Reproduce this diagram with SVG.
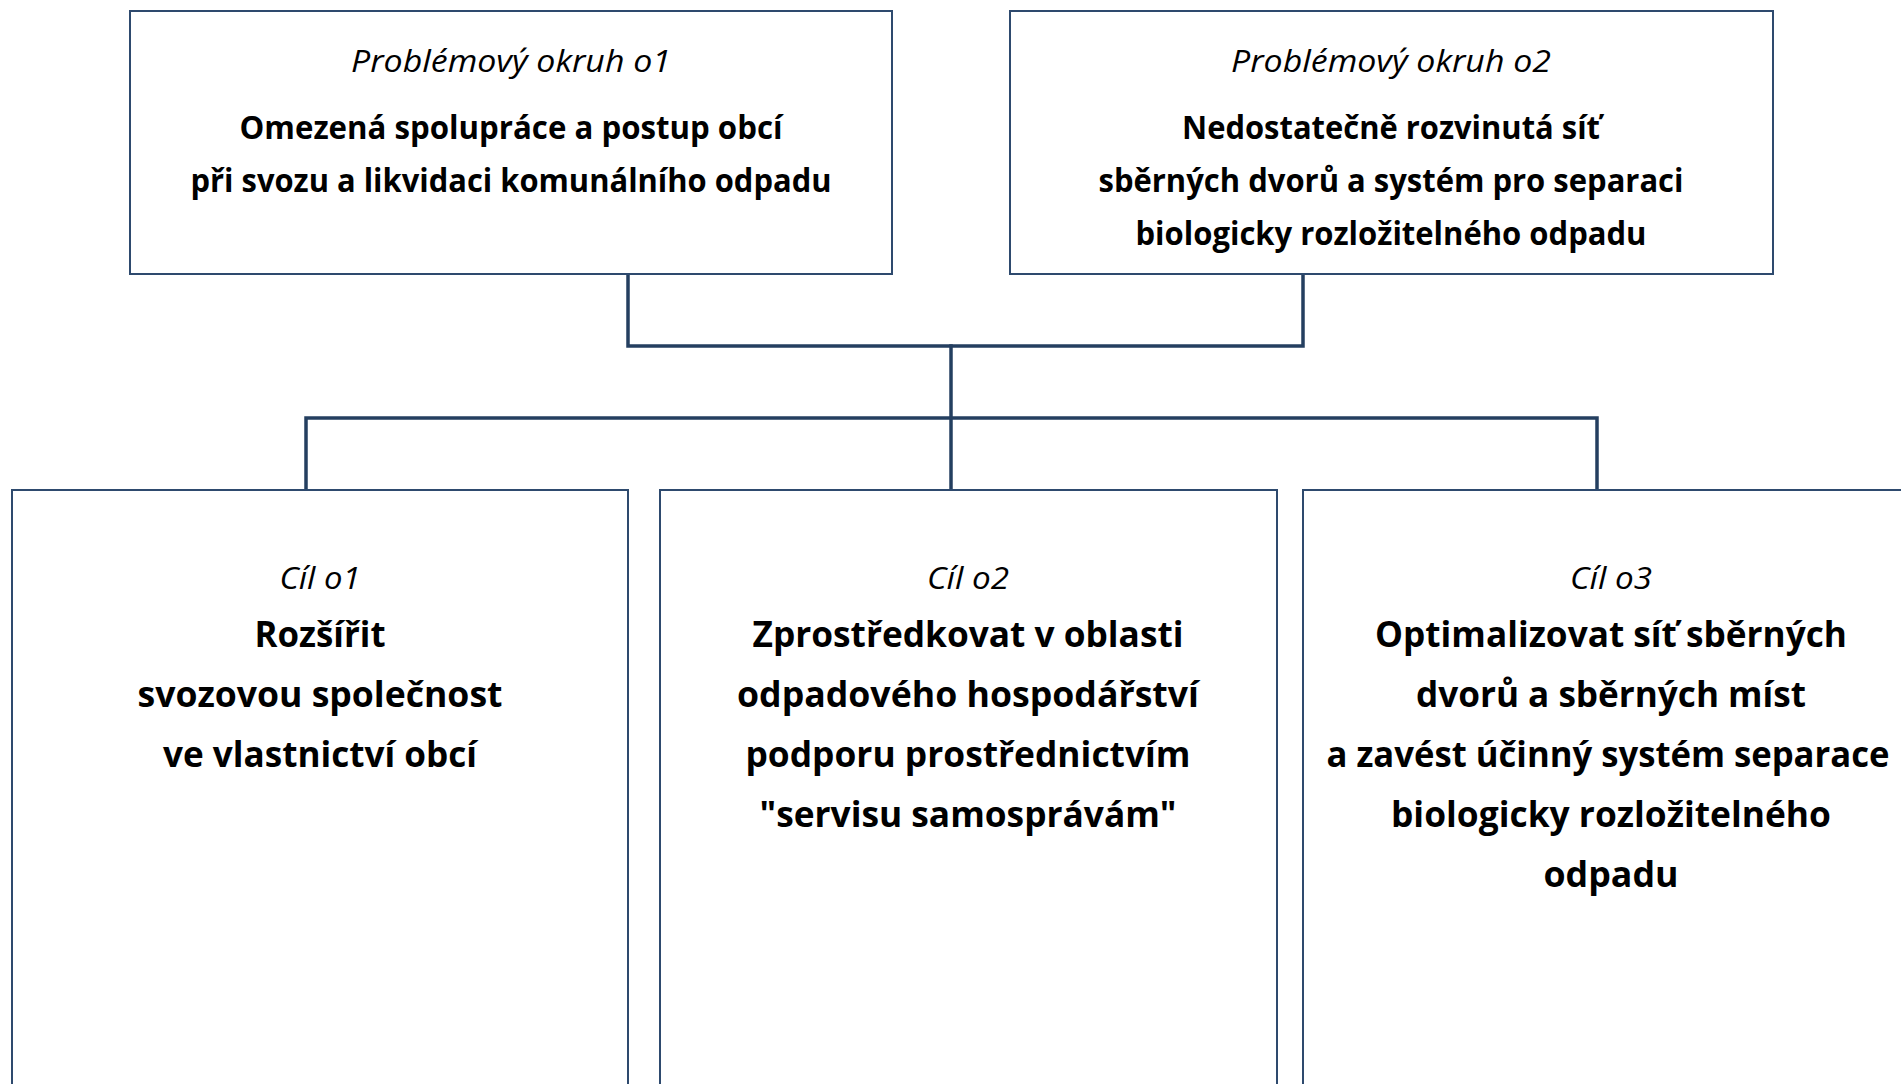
<svg xmlns="http://www.w3.org/2000/svg" width="1901" height="1084" viewBox="0 0 1901 1084">
<style>
.box{fill:#ffffff;stroke:#2E4A6E;stroke-width:2}
.conn{fill:none;stroke:#243F60;stroke-width:3.5;stroke-linecap:square}
text{font-family:"Open Sans","Liberation Sans",sans-serif;fill:#000;text-anchor:middle}
.ti{font-style:italic;font-size:31px}
.tb{font-weight:bold;font-size:31.5px}
.bb{font-weight:bold;font-size:36px}
</style>
<rect width="1901" height="1084" fill="#ffffff"/>
<g id="connectors">
<polyline class="conn" points="628,274 628,346 1303,346 1303,274"/>
<line class="conn" x1="951" y1="346" x2="951" y2="490"/>
<polyline class="conn" points="306,490 306,418 1597,418 1597,490"/>
</g>
<g id="problem1">
<rect class="box" x="130" y="11" width="762" height="263"/>
<text class="ti" x="511" y="72" textLength="320" lengthAdjust="spacingAndGlyphs">Problémový okruh o1</text>
<text class="tb" x="511" y="139" textLength="543" lengthAdjust="spacingAndGlyphs">Omezená spolupráce a postup obcí</text>
<text class="tb" x="511" y="192" textLength="641" lengthAdjust="spacingAndGlyphs">při svozu a likvidaci komunálního odpadu</text>
</g>
<g id="problem2">
<rect class="box" x="1010" y="11" width="763" height="263"/>
<text class="ti" x="1391" y="72" textLength="320" lengthAdjust="spacingAndGlyphs">Problémový okruh o2</text>
<text class="tb" x="1391" y="139" textLength="418" lengthAdjust="spacingAndGlyphs">Nedostatečně rozvinutá síť</text>
<text class="tb" x="1391" y="192" textLength="585" lengthAdjust="spacingAndGlyphs">sběrných dvorů a systém pro separaci</text>
<text class="tb" x="1391" y="245" textLength="511" lengthAdjust="spacingAndGlyphs">biologicky rozložitelného odpadu</text>
</g>
<g id="goal1">
<rect class="box" x="12" y="490" width="616" height="620"/>
<text class="ti" x="320" y="589" textLength="81" lengthAdjust="spacingAndGlyphs">Cíl o1</text>
<text class="bb" x="320" y="647" textLength="131" lengthAdjust="spacingAndGlyphs">Rozšířit</text>
<text class="bb" x="320" y="707" textLength="365" lengthAdjust="spacingAndGlyphs">svozovou společnost</text>
<text class="bb" x="320" y="767" textLength="314" lengthAdjust="spacingAndGlyphs">ve vlastnictví obcí</text>
</g>
<g id="goal2">
<rect class="box" x="660" y="490" width="617" height="620"/>
<text class="ti" x="968" y="589" textLength="82" lengthAdjust="spacingAndGlyphs">Cíl o2</text>
<text class="bb" x="968" y="647" textLength="431" lengthAdjust="spacingAndGlyphs">Zprostředkovat v oblasti</text>
<text class="bb" x="968" y="707" textLength="462" lengthAdjust="spacingAndGlyphs">odpadového hospodářství</text>
<text class="bb" x="968" y="767" textLength="445" lengthAdjust="spacingAndGlyphs">podporu prostřednictvím</text>
<text class="bb" x="968" y="827" textLength="417" lengthAdjust="spacingAndGlyphs">"servisu samosprávám"</text>
</g>
<g id="goal3">
<rect class="box" x="1303" y="490" width="630" height="620"/>
<text class="ti" x="1611" y="589" textLength="82" lengthAdjust="spacingAndGlyphs">Cíl o3</text>
<text class="bb" x="1611" y="647" textLength="472" lengthAdjust="spacingAndGlyphs">Optimalizovat síť sběrných</text>
<text class="bb" x="1611" y="707" textLength="390" lengthAdjust="spacingAndGlyphs">dvorů a sběrných míst</text>
<text class="bb" x="1608" y="767" textLength="563" lengthAdjust="spacingAndGlyphs">a zavést účinný systém separace</text>
<text class="bb" x="1611" y="827" textLength="440" lengthAdjust="spacingAndGlyphs">biologicky rozložitelného</text>
<text class="bb" x="1611" y="887" textLength="135" lengthAdjust="spacingAndGlyphs">odpadu</text>
</g>
</svg>
